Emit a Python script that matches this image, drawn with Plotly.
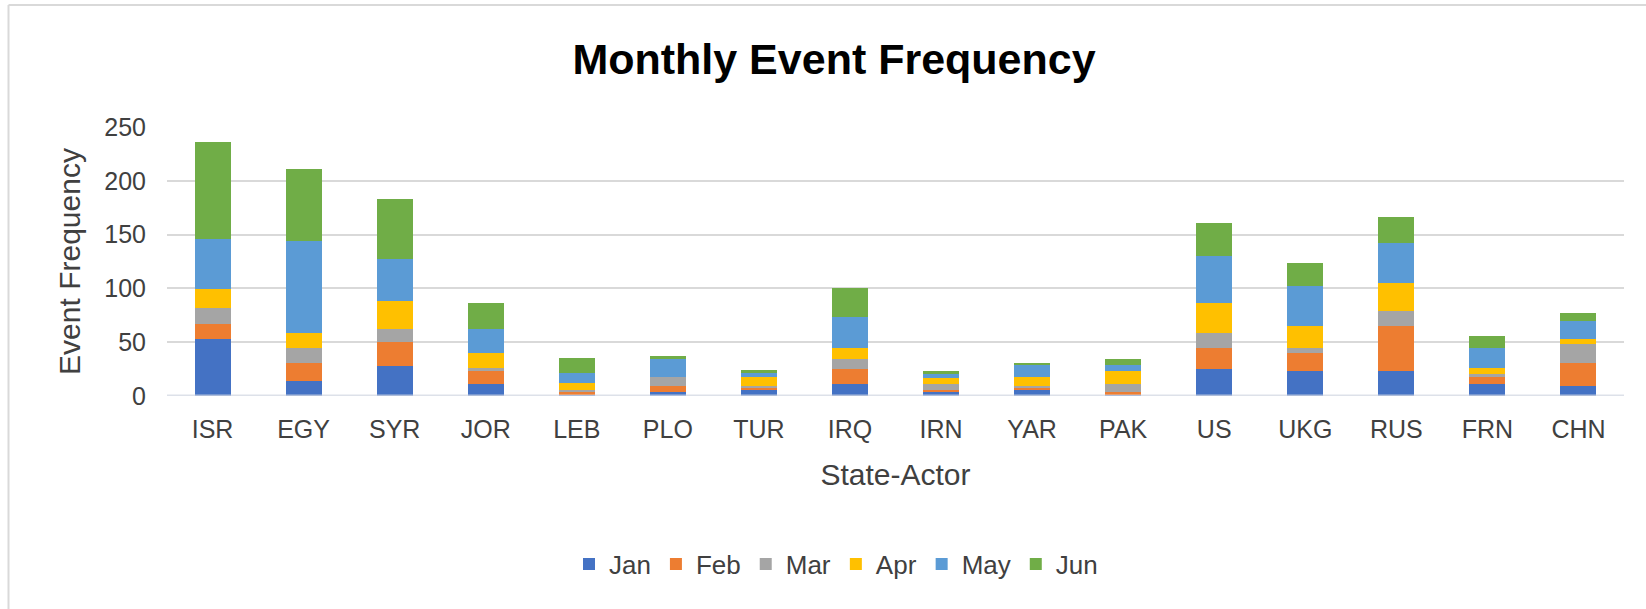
import plotly.graph_objects as go

# State actors along the category axis
actors = ["ISR", "EGY", "SYR", "JOR", "LEB", "PLO", "TUR", "IRQ",
          "IRN", "YAR", "PAK", "US", "UKG", "RUS", "FRN", "CHN"]

# Monthly event counts per actor
jan = [53, 14, 28, 11, 1, 4, 6, 11, 4, 6, 1, 25, 23, 23, 11, 9]
feb = [14, 17, 22, 12, 3, 5, 2, 14, 2, 1, 3, 20, 17, 42, 7, 22]
mar = [15, 14, 12, 3, 2, 9, 1, 9, 5, 2, 7, 14, 5, 14, 2, 17]
apr = [17, 14, 26, 14, 6, 0, 9, 11, 6, 9, 12, 27, 20, 26, 6, 5]
may = [47, 85, 39, 22, 9, 16, 3, 28, 3, 11, 6, 44, 37, 37, 19, 17]
jun = [90, 67, 56, 24, 14, 3, 3, 27, 3, 2, 5, 31, 22, 24, 11, 7]

months = ["Jan", "Feb", "Mar", "Apr", "May", "Jun"]
series = [jan, feb, mar, apr, may, jun]
colors = ["#4472C4", "#ED7D31", "#A5A5A5", "#FFC000", "#5B9BD5", "#70AD47"]

y_ticks = [0, 50, 100, 150, 200, 250]

FONT = "Liberation Sans, Arial, sans-serif"
TEXT = "#404040"

fig = go.Figure()
for name, vals, col in zip(months, series, colors):
    fig.add_trace(go.Bar(
        x=actors, y=vals, name=name,
        marker=dict(color=col, line=dict(width=0)),
    ))

# plot-area geometry in pixels, used to place the frame in paper units
L, R, T, B = 167, 22, 127, 213
W, H = 1646, 609
pw, ph = W - L - R, H - T - B

def px_x(x):
    return (x - L) / pw

def px_y(y):
    return (H - B - y) / ph

fig.update_layout(
    width=W, height=H,
    margin=dict(l=L, r=R, t=T, b=B),
    paper_bgcolor="white", plot_bgcolor="white",
    barmode="stack", bargap=0.605,
    font=dict(family=FONT, color=TEXT),
    title=dict(
        text="<b>Monthly Event Frequency</b>",
        x=834 / W, xref="container", xanchor="center",
        y=1 - 59 / H, yref="container", yanchor="middle",
        font=dict(size=43, color="#000000", family=FONT),
    ),
    xaxis=dict(
        showgrid=False, showline=False, zeroline=False, ticks="",
        tickfont=dict(size=25, color=TEXT),
        ticklabelstandoff=16,
        title=dict(text="State-Actor", standoff=21,
                   font=dict(size=30, color=TEXT)),
    ),
    yaxis=dict(
        range=[0, 250], tickvals=y_ticks, ticks="",
        showgrid=True, gridcolor="#D9D9D9", gridwidth=2,
        zeroline=False, showline=False,
        tickfont=dict(size=25, color=TEXT),
        ticklabelstandoff=20,
        title=dict(text="Event Frequency", standoff=14,
                   font=dict(size=30, color=TEXT)),
    ),
    legend=dict(
        orientation="h", traceorder="normal",
        x=px_x(836), xanchor="center",
        y=px_y(564), yanchor="middle",
        font=dict(size=26, color=TEXT),
        itemwidth=30, itemclick=False,
    ),
    shapes=[
        # baseline drawn over the bar bottoms
        dict(type="line", xref="paper", yref="y", x0=0, x1=1, y0=0, y1=0,
             line=dict(color="rgba(210,215,225,0.75)", width=3), layer="above"),
        # chart frame (top and left edges)
        dict(type="line", xref="paper", yref="paper",
             x0=px_x(8.5), x1=px_x(W + 10), y0=px_y(5), y1=px_y(5),
             line=dict(color="#D9D9D9", width=2), layer="below"),
        dict(type="line", xref="paper", yref="paper",
             x0=px_x(8.5), x1=px_x(8.5), y0=px_y(5), y1=px_y(H + 10),
             line=dict(color="#D9D9D9", width=2), layer="below"),
    ],
)

fig.write_html("out.html")
